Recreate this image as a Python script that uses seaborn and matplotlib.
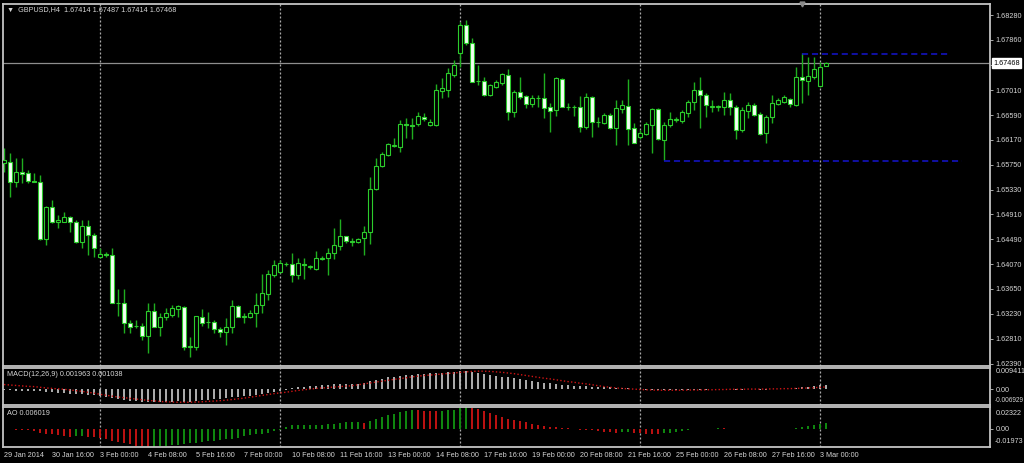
import matplotlib
matplotlib.use("Agg")
import matplotlib.pyplot as plt
import numpy as np
import pandas as pd
import seaborn as sns

# ---- chart data (GBPUSD H4) ----
opens = [
    1.6578, 1.6579, 1.6545, 1.6562, 1.6561, 1.6547, 1.6545, 1.6449, 1.6503, 1.6478,
    1.6479, 1.6486, 1.6479, 1.6444, 1.6471, 1.6456, 1.6419, 1.6424, 1.6422, 1.6342,
    1.6342, 1.6308, 1.6302, 1.6303, 1.6286, 1.6327, 1.6300, 1.6317, 1.6321, 1.6331,
    1.6334, 1.6267, 1.6267, 1.6317, 1.6309, 1.6309, 1.6298, 1.6292, 1.6300, 1.6336,
    1.6317, 1.6317, 1.6324, 1.6338, 1.6356, 1.6389, 1.6394, 1.6407, 1.6407, 1.6389,
    1.6407, 1.6402, 1.6399, 1.6415, 1.6417, 1.6425, 1.6437, 1.6454, 1.6446, 1.6444,
    1.6451, 1.6461, 1.6534, 1.6573, 1.6591, 1.6607, 1.6605, 1.6644, 1.6642, 1.6644,
    1.6656, 1.6642, 1.6642, 1.6699, 1.6701, 1.6727, 1.6764, 1.6811, 1.6781, 1.6716,
    1.6716, 1.6693, 1.6706, 1.6713, 1.6727, 1.6664, 1.6698, 1.6691, 1.6677, 1.6688,
    1.6688, 1.6672, 1.6667, 1.6720, 1.6672, 1.6673, 1.6672, 1.6638, 1.6689, 1.6647,
    1.6645, 1.6659, 1.6637, 1.6669, 1.6674, 1.6637, 1.6622, 1.6627, 1.6642, 1.6669,
    1.6617, 1.6642, 1.6650, 1.6649, 1.6662, 1.6681, 1.6701, 1.6693, 1.6672, 1.6672,
    1.6672, 1.6684, 1.6672, 1.6633, 1.6666, 1.6676, 1.6660, 1.6629, 1.6656, 1.6677,
    1.6681, 1.6686, 1.6676, 1.6723, 1.6716, 1.6723, 1.6708, 1.67414,
]
highs = [
    1.6603, 1.6594, 1.6586, 1.6586, 1.6566, 1.6561, 1.6557, 1.6505, 1.6515, 1.6490,
    1.6495, 1.6488, 1.6481, 1.6481, 1.6481, 1.6459, 1.6435, 1.6427, 1.6434, 1.6365,
    1.6365, 1.6312, 1.6312, 1.6308, 1.6341, 1.6341, 1.6324, 1.6332, 1.6338, 1.6338,
    1.6336, 1.6284, 1.6320, 1.6331, 1.6326, 1.6312, 1.6300, 1.6316, 1.6346, 1.6338,
    1.6324, 1.6329, 1.6358, 1.6390, 1.6397, 1.6414, 1.6414, 1.6411, 1.6425, 1.6418,
    1.6418, 1.6405, 1.6430, 1.6421, 1.6435, 1.6468, 1.6483, 1.6455, 1.6451, 1.6451,
    1.6471, 1.6554, 1.6586, 1.6596, 1.6611, 1.6620, 1.6650, 1.6654, 1.6654, 1.6664,
    1.6662, 1.6652, 1.6711, 1.6721, 1.6738, 1.6752, 1.6816, 1.6820, 1.6789, 1.6743,
    1.6723, 1.6711, 1.6718, 1.6730, 1.6737, 1.6701, 1.6723, 1.6693, 1.6693, 1.6693,
    1.6730, 1.6679, 1.6723, 1.6721, 1.6679, 1.6676, 1.6691, 1.6696, 1.6691, 1.6656,
    1.6662, 1.6662, 1.6684, 1.6684, 1.6720, 1.6645, 1.6634, 1.6647, 1.6671, 1.6671,
    1.6647, 1.6664, 1.6656, 1.6667, 1.6684, 1.6715, 1.6723, 1.6696, 1.6684, 1.6676,
    1.6698, 1.6696, 1.6676, 1.6672, 1.6681, 1.6679, 1.6664, 1.6659, 1.6693, 1.6688,
    1.6693, 1.6688, 1.6740, 1.6764, 1.6757, 1.6757, 1.6749, 1.67487,
]
lows = [
    1.6562, 1.6520, 1.6537, 1.6544, 1.6544, 1.6545, 1.6447, 1.6440, 1.6476, 1.6468,
    1.6478, 1.6461, 1.6442, 1.6435, 1.6422, 1.6419, 1.6418, 1.6419, 1.6341, 1.6320,
    1.6290, 1.6290, 1.6299, 1.6279, 1.6256, 1.6300, 1.6286, 1.6312, 1.6317, 1.6317,
    1.6261, 1.6250, 1.6261, 1.6302, 1.6299, 1.6290, 1.6283, 1.6270, 1.6290, 1.6317,
    1.6307, 1.6316, 1.6300, 1.6324, 1.6346, 1.6385, 1.6392, 1.6404, 1.6377, 1.6382,
    1.6382, 1.6399, 1.6397, 1.6414, 1.6389, 1.6415, 1.6431, 1.6442, 1.6437, 1.6442,
    1.6422, 1.6441, 1.6532, 1.6571, 1.6589, 1.6605, 1.6596, 1.6620, 1.6618, 1.6641,
    1.6649, 1.6641, 1.6641, 1.6688, 1.6689, 1.6723, 1.6740, 1.6777, 1.6715, 1.6710,
    1.6691, 1.6691, 1.6704, 1.6710, 1.6650, 1.6655, 1.6686, 1.6671, 1.6672, 1.6672,
    1.6654, 1.6630, 1.6657, 1.6672, 1.6667, 1.6657, 1.6630, 1.6635, 1.6622, 1.6638,
    1.6644, 1.6635, 1.6608, 1.6662, 1.6608, 1.6611, 1.6618, 1.6625, 1.6594, 1.6617,
    1.6583, 1.6639, 1.6647, 1.6645, 1.6656, 1.6667, 1.6637, 1.6655, 1.6664, 1.6666,
    1.6659, 1.6659, 1.6618, 1.6630, 1.6654, 1.6657, 1.6625, 1.6612, 1.6645, 1.6676,
    1.6679, 1.6672, 1.6674, 1.6679, 1.6693, 1.6720, 1.6707, 1.67414,
]
closes = [
    1.6583, 1.6545, 1.6562, 1.6559, 1.6547, 1.6546, 1.6449, 1.6503, 1.6478, 1.6481,
    1.6486, 1.6479, 1.6444, 1.6471, 1.6456, 1.6435, 1.6424, 1.6423, 1.6342, 1.6341,
    1.6308, 1.6300, 1.6303, 1.6286, 1.6327, 1.6300, 1.6317, 1.6324, 1.6333, 1.6336,
    1.6267, 1.6269, 1.6319, 1.6307, 1.6310, 1.6298, 1.6292, 1.6300, 1.6336, 1.6317,
    1.6319, 1.6324, 1.6338, 1.6358, 1.6390, 1.6405, 1.6409, 1.6408, 1.6389, 1.6409,
    1.6405, 1.6404, 1.6417, 1.6417, 1.6425, 1.6439, 1.6454, 1.6446, 1.6445, 1.6450,
    1.6461, 1.6534, 1.6573, 1.6593, 1.6610, 1.6608, 1.6644, 1.6642, 1.6641, 1.6657,
    1.6652, 1.6647, 1.6701, 1.6704, 1.6730, 1.6743, 1.6811, 1.6781, 1.6715, 1.6717,
    1.6693, 1.6709, 1.6715, 1.6728, 1.6664, 1.6698, 1.6689, 1.6677, 1.6688, 1.6687,
    1.6671, 1.6666, 1.6721, 1.6672, 1.6673, 1.6672, 1.6638, 1.6689, 1.6647, 1.6648,
    1.6659, 1.6637, 1.6671, 1.6676, 1.6635, 1.6611, 1.6629, 1.6644, 1.6669, 1.6618,
    1.6642, 1.6652, 1.6652, 1.6664, 1.6681, 1.6701, 1.6693, 1.6676, 1.6674, 1.6674,
    1.6684, 1.6672, 1.6633, 1.6667, 1.6676, 1.6659, 1.6627, 1.6656, 1.6679, 1.6684,
    1.6689, 1.6677, 1.6723, 1.6718, 1.6725, 1.6737, 1.6740, 1.67468,
]

# MACD(12,26,9): main histogram and signal line
macd_main = [
    -0.0005, -0.0005, -0.0006, -0.0006, -0.0007, -0.0007, -0.0009, -0.0011, -0.0013, -0.0015,
    -0.0018, -0.0019, -0.0021, -0.0022, -0.0025, -0.0027, -0.0028, -0.0033, -0.0040, -0.0044,
    -0.0047, -0.0050, -0.0053, -0.0056, -0.0057, -0.0058, -0.0057, -0.0056, -0.0054, -0.0053,
    -0.0054, -0.0054, -0.0050, -0.0048, -0.0046, -0.0044, -0.0041, -0.0039, -0.0035, -0.0033,
    -0.0031, -0.0028, -0.0025, -0.0020, -0.0015, -0.0010, -0.0006, -0.0001, 0.0004, 0.0008,
    0.0011, 0.0013, 0.0016, 0.0018, 0.0020, 0.0022, 0.0024, 0.0024, 0.0024, 0.0025,
    0.0026, 0.0035, 0.0043, 0.0047, 0.0053, 0.0056, 0.0060, 0.0063, 0.0065, 0.0068,
    0.0068, 0.0071, 0.0072, 0.0074, 0.0075, 0.0076, 0.0082, 0.0079, 0.0075, 0.0071,
    0.0068, 0.0063, 0.0060, 0.0056, 0.0053, 0.0049, 0.0046, 0.0041, 0.0035, 0.0031,
    0.0028, 0.0026, 0.0024, 0.0021, 0.0021, 0.0016, 0.0015, 0.0013, 0.0012, 0.0010,
    0.0009, 0.0008, 0.0006, 0.0005, 0.0004, 0.0003, 0.0000, -0.0002, -0.0003, -0.0004,
    -0.0005, -0.0005, -0.0005, -0.0004, -0.0003, -0.0002, -0.0001, -0.0001, 0.0000, 0.0000,
    0.0001, 0.0000, -0.0001, -0.0001, 0.0000, 0.0000, -0.0001, -0.0001, 0.0000, 0.0001,
    0.0002, 0.0002, 0.0005, 0.0008, 0.0011, 0.0014, 0.0017, 0.001963,
]
macd_signal = [
    0.0021, 0.0019, 0.0017, 0.0015, 0.0013, 0.0012, 0.0009, 0.0006, 0.0004, 0.0002,
    0.0000, -0.0003, -0.0006, -0.0009, -0.0013, -0.0017, -0.0022, -0.0026, -0.0030, -0.0034,
    -0.0037, -0.0040, -0.0043, -0.0046, -0.0049, -0.0051, -0.0054, -0.0055, -0.0056, -0.0057,
    -0.0057, -0.0057, -0.0056, -0.0055, -0.0053, -0.0052, -0.0050, -0.0048, -0.0045, -0.0042,
    -0.0039, -0.0035, -0.0031, -0.0027, -0.0023, -0.0019, -0.0016, -0.0013, -0.0009, -0.0005,
    -0.0002, 0.0001, 0.0004, 0.0006, 0.0008, 0.0010, 0.0012, 0.0014, 0.0016, 0.0020,
    0.0024, 0.0028, 0.0032, 0.0036, 0.0040, 0.0044, 0.0047, 0.0051, 0.0055, 0.0058,
    0.0061, 0.0063, 0.0065, 0.0068, 0.0070, 0.0072, 0.0075, 0.0077, 0.0079, 0.0080,
    0.0080, 0.0079, 0.0077, 0.0075, 0.0072, 0.0069, 0.0065, 0.0061, 0.0057, 0.0053,
    0.0049, 0.0046, 0.0042, 0.0038, 0.0034, 0.0031, 0.0027, 0.0024, 0.0020, 0.0016,
    0.0012, 0.0009, 0.0006, 0.0004, 0.0002, 0.0001, -0.0001, -0.0002, -0.0003, -0.0004,
    -0.0004, -0.0004, -0.0004, -0.0004, -0.0003, -0.0003, -0.0003, -0.0002, -0.0002, -0.0001,
    -0.0001, 0.0000, 0.0000, 0.0000, 0.0001, 0.0001, 0.0001, 0.0001, 0.0002, 0.0002,
    0.0003, 0.0003, 0.0004, 0.0005, 0.0006, 0.0007, 0.0009, 0.001038,
]

# Awesome Oscillator
ao_values = [
    -0.0008, -0.0008, -0.0012, -0.0015, -0.0019, -0.0023, -0.0043, -0.0054, -0.0062, -0.0070,
    -0.0077, -0.0085, -0.0081, -0.0077, -0.0085, -0.0093, -0.0101, -0.0112, -0.0128, -0.0143,
    -0.0159, -0.0170, -0.0182, -0.0190, -0.01973, -0.0192, -0.0188, -0.0183, -0.0178, -0.0172,
    -0.0166, -0.0158, -0.0150, -0.0142, -0.0135, -0.0128, -0.0122, -0.0115, -0.0108, -0.0096,
    -0.0083, -0.0070, -0.0063, -0.0056, -0.0048, -0.0030, -0.0010, 0.0022, 0.0036, 0.0037,
    0.0038, 0.0039, 0.0043, 0.0044, 0.0046, 0.0054, 0.0062, 0.0066, 0.0070, 0.0071,
    0.0064, 0.0085, 0.0103, 0.0128, 0.0146, 0.0158, 0.0180, 0.0192, 0.0200, 0.0197,
    0.0193, 0.0189, 0.0184, 0.0188, 0.0196, 0.0203, 0.0218, 0.02322, 0.0222, 0.0210,
    0.0192, 0.0168, 0.0146, 0.0124, 0.0107, 0.0094, 0.0077, 0.0068, 0.0051, 0.0039,
    0.0030, 0.0021, 0.0013, 0.0009, 0.0004, -0.0008, -0.0012, -0.0015, -0.0019, -0.0025,
    -0.0031, -0.0035, -0.0043, -0.0039, -0.0035, -0.0043, -0.0050, -0.0054, -0.0058, -0.0062,
    -0.0050, -0.0043, -0.0031, -0.0023, -0.0015, -0.0008, -0.0004, -0.0002, 0.0001, 0.0003,
    0.0002, 0.0001, -0.0001, -0.0002, -0.0003, -0.0003, -0.0004, -0.0004, -0.0003, -0.0002,
    -0.0001, 0.0001, 0.0012, 0.0020, 0.0028, 0.0035, 0.0045, 0.006019,
]

time_labels = [
    "29 Jan 2014", "30 Jan 16:00", "3 Feb 00:00", "4 Feb 08:00", "5 Feb 16:00",
    "7 Feb 00:00", "10 Feb 08:00", "11 Feb 16:00", "13 Feb 00:00", "14 Feb 08:00",
    "17 Feb 16:00", "19 Feb 00:00", "20 Feb 08:00", "21 Feb 16:00", "25 Feb 00:00",
    "26 Feb 08:00", "27 Feb 16:00", "3 Mar 00:00",
]
label_every = 8
grid_bars = [16, 46, 76, 106, 136]

price_ticks = [1.68280, 1.67860, 1.67440, 1.67010, 1.66590, 1.66170, 1.65750,
               1.65330, 1.64910, 1.64490, 1.64070, 1.63650, 1.63230, 1.62810, 1.62390]
price_tick_text = ["1.68280", "1.67860", "", "1.67010", "1.66590", "1.66170", "1.65750",
                   "1.65330", "1.64910", "1.64490", "1.64070", "1.63650", "1.63230",
                   "1.62810", "1.62390"]
price_range = (1.62348, 1.68466)
last_price = 1.67468
macd_range = (-0.006929, 0.009411)
ao_range = (-0.01973, 0.02322)

# support / resistance lines drawn on the chart: level, first bar, last bar
line_levels = [1.6762, 1.6581]
line_starts = [133, 110]
line_ends = [157.3, 159.7]

header_text = "GBPUSD,H4  1.67414 1.67487 1.67414 1.67468"
macd_text = "MACD(12,26,9) 0.001963 0.001038"
ao_text = "AO 0.006019"

# ---- styling ----
BG = "black"
FRAME = "#c4c4c4"
TEXT = "#d6d6d6"
WICK = "#1fae1f"
EDGE = "#2ccc2c"
BEAR_FILL = "#f4fff4"
GRID = "#a8a8a8"

sns.set_theme(style="dark", rc={
    "axes.facecolor": BG, "figure.facecolor": BG, "savefig.facecolor": BG,
    "axes.edgecolor": FRAME, "axes.grid": False,
})
plt.rcParams["font.family"] = ["Liberation Sans", "DejaVu Sans"]
FS = 5.2

bars = pd.DataFrame({
    "open": opens, "high": highs, "low": lows, "close": closes,
    "macd": macd_main, "signal": macd_signal, "ao": ao_values,
})
bars["bar"] = np.arange(len(bars))
bull = bars["close"] >= bars["open"]
body_low = bars[["open", "close"]].min(axis=1)
body_h = (bars["close"] - bars["open"]).abs().clip(lower=0.00004)
ao_up = bars["ao"].diff().fillna(-1) >= 0

W, H = 1024, 463
fig = plt.figure(figsize=(W / 100, H / 100), dpi=100)


def px_axes(x0, y0, x1, y1):
    return fig.add_axes([x0 / W, 1 - y1 / H, (x1 - x0) / W, (y1 - y0) / H])


ax_p = px_axes(3, 4, 990, 366)
ax_m = px_axes(3, 368, 990, 405)
ax_a = px_axes(3, 407, 990, 447)
xlim = (-0.17, 164.33)

for ax in (ax_p, ax_m, ax_a):
    ax.set_facecolor(BG)
    ax.set_xlim(*xlim)
    for sp in ax.spines.values():
        sp.set_color(FRAME)
        sp.set_linewidth(1.3)
    for gb in grid_bars:
        ax.axvline(gb, color=GRID, lw=0.9, linestyle=(0, (1.6, 1.6)), zorder=1)
    ax.yaxis.tick_right()
    ax.tick_params(axis="x", length=0, labelbottom=False)
    ax.tick_params(axis="y", colors=FRAME, labelcolor=TEXT, labelsize=FS,
                   length=2.5, width=0.6, pad=1.5, direction="out")

# ---- price panel ----
ax_p.set_ylim(*price_range)
ax_p.axhline(last_price, color="#8e8e8e", lw=0.9, zorder=1)
ax_p.vlines(bars["bar"], bars["low"], bars["high"], color=WICK, lw=1.0, zorder=2)
ax_p.bar(bars["bar"], body_h, bottom=body_low, width=0.6,
         color=np.where(bull, "black", BEAR_FILL), edgecolor=EDGE, linewidth=0.8, zorder=3)
for lvl, x0, x1 in zip(line_levels, line_starts, line_ends):
    ax_p.hlines(lvl, x0, x1, color="#1414d0", lw=1.1, linestyle=(0, (4, 2.5)), zorder=4)
ax_p.set_yticks(price_ticks, labels=price_tick_text)
ax_p.annotate(f"{last_price:.5f}", xy=(1.0, last_price), xycoords=("axes fraction", "data"),
              xytext=(2.5, 0), textcoords="offset points", va="center", ha="left",
              fontsize=FS, color="black",
              bbox=dict(boxstyle="square,pad=0.18", fc="white", ec="white"),
              annotation_clip=False)
ax_p.text(0.004, 0.995, "\u25bc  " + header_text, transform=ax_p.transAxes,
          va="top", ha="left", fontsize=FS, color=TEXT)
ax_p.plot([133], [1.0], marker="v", color="#8a8a8a", markersize=3.5,
          transform=ax_p.get_xaxis_transform(), clip_on=False, zorder=6)

# ---- MACD panel ----
ax_m.set_ylim(*macd_range)
ax_m.vlines(bars["bar"], 0, bars["macd"], color="#bdbdbd", lw=1.3, zorder=2)
sns.lineplot(x=bars["bar"], y=bars["signal"], ax=ax_m, color="#d01414", lw=1.0,
             linestyle=(0, (1, 1.6)), estimator=None, sort=False, legend=False, zorder=3)
ax_m.set_xlim(*xlim)
ax_m.set_xlabel("")
ax_m.set_ylabel("")
ax_m.set_yticks([0.0], labels=["0.00"])
ax_m.text(1.006, 0.99, "0.009411", transform=ax_m.transAxes, va="top", ha="left",
          fontsize=FS, color=TEXT)
ax_m.text(1.005, 0.04, "-0.006929", transform=ax_m.transAxes, va="bottom", ha="left",
          fontsize=4.7, color=TEXT)
ax_m.text(0.004, 0.93, macd_text, transform=ax_m.transAxes, va="top", ha="left",
          fontsize=FS, color=TEXT)

# ---- AO panel ----
ax_a.set_ylim(*ao_range)
ax_a.vlines(bars["bar"], 0, bars["ao"], color=np.where(ao_up, "#108a10", "#c01212"),
            lw=1.4, zorder=2)
ax_a.set_yticks([0.0], labels=["0.00"])
ax_a.text(1.006, 0.93, "0.02322", transform=ax_a.transAxes, va="top", ha="left",
          fontsize=FS, color=TEXT)
ax_a.text(1.005, 0.04, "-0.01973", transform=ax_a.transAxes, va="bottom", ha="left",
          fontsize=FS, color=TEXT)
ax_a.text(0.004, 0.93, ao_text, transform=ax_a.transAxes, va="top", ha="left",
          fontsize=FS, color=TEXT)
tick_pos = [i * label_every for i in range(len(time_labels))]
ax_a.set_xticks(tick_pos, labels=time_labels)
ax_a.tick_params(axis="x", length=2.5, width=0.6, colors=FRAME, labelcolor=TEXT,
                 labelsize=FS, labelbottom=True, pad=1.0, direction="out")
for lab in ax_a.get_xticklabels():
    lab.set_ha("left")

fig.savefig("out.png", dpi=100, facecolor=BG)
